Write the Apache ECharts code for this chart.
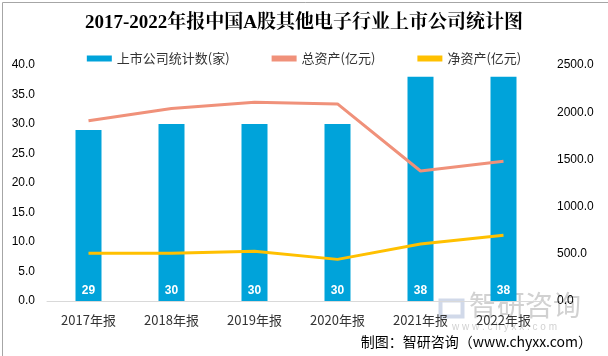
<!DOCTYPE html>
<html><head><meta charset="utf-8">
<script src="https://cdn.jsdelivr.net/npm/echarts@6/dist/echarts.min.js"></script>
<style>html,body{margin:0;padding:0;background:#fff}#c{width:608px;height:356px}</style>
</head><body><div id="c"></div>
<script>
const categories = ['2017年报','2018年报','2019年报','2020年报','2021年报','2022年报'];
const companyCount = [29,30,30,30,38,38];
const totalAssets = [1910,2040,2105,2088,1377,1480];
const netAssets = [505,505,527,441,604,696];
const leftTicks = [0,5,10,15,20,25,30,35,40];
const rightTicks = [0,500,1000,1500,2000,2500];

const chart = echarts.init(document.getElementById('c'));
chart.setOption({
  animation:false,
  backgroundColor:'#fff',
  title:{text:'2017-2022年报中国A股其他电子行业上市公司统计图',left:'center',top:9,
    textStyle:{fontFamily:'"Liberation Serif","Noto Serif CJK SC","Noto Sans CJK SC",serif',fontSize:19,fontWeight:'bold',color:'#000'}},
  legend:{top:47,left:'center',itemGap:42,itemWidth:25,itemHeight:6,
    textStyle:{fontSize:13,color:'#333',fontFamily:'"Noto Sans CJK SC",sans-serif'},
    data:[{name:'上市公司统计数(家)',icon:'rect'},{name:'总资产(亿元)',icon:'rect'},{name:'净资产(亿元)',icon:'rect'}]},
  grid:{left:47,right:63,top:65,bottom:55},
  xAxis:{type:'category',data:categories,axisTick:{show:false},
    axisLine:{lineStyle:{color:'#d9d9d9'}},
    axisLabel:{fontSize:13,color:'#333',margin:13,fontFamily:'"Noto Sans CJK SC",sans-serif'}},
  yAxis:[
    {type:'value',min:leftTicks[0],max:leftTicks[leftTicks.length-1],interval:5,splitLine:{show:false},
      axisLabel:{formatter:v=>v.toFixed(1),color:'#000',fontSize:12,margin:12}},
    {type:'value',min:rightTicks[0],max:rightTicks[rightTicks.length-1],interval:500,splitLine:{show:false},
      axisLabel:{formatter:v=>v.toFixed(1),color:'#000',fontSize:12,margin:12}}
  ],
  series:[
    {name:'上市公司统计数(家)',type:'bar',data:companyCount,barWidth:26,itemStyle:{color:'#00A3DA'},
      label:{show:true,position:'insideBottom',distance:4,color:'#fff',fontWeight:'bold',fontSize:12}},
    {name:'总资产(亿元)',type:'line',yAxisIndex:1,data:totalAssets,symbol:'none',
      lineStyle:{color:'#F0917A',width:3},itemStyle:{color:'#F0917A'}},
    {name:'净资产(亿元)',type:'line',yAxisIndex:1,data:netAssets,symbol:'none',
      lineStyle:{color:'#FFC000',width:3},itemStyle:{color:'#FFC000'}}
  ],
  graphic:[
    {type:'rect',left:0,top:0,shape:{width:607,height:355},style:{fill:'none',stroke:'#a6a6a6',lineWidth:1}},
    {type:'text',left:469,top:291,style:{text:'智研咨询',fontSize:28,fill:'rgba(140,140,140,0.4)',fontFamily:'"Noto Sans CJK SC",sans-serif'}},
    {type:'text',left:452,top:322,style:{text:'w w w . c h y x x . c o m',fontSize:10,fill:'rgba(140,140,140,0.4)'}},
    {type:'rect',left:438,top:298,shape:{width:22,height:16},style:{fill:'none',stroke:'rgba(140,160,200,0.4)',lineWidth:4}},
    {type:'text',right:16,top:335,style:{text:'制图：智研咨询（www.chyxx.com）',fontSize:14,fill:'#000',fontFamily:'"Noto Sans CJK SC",sans-serif'}}
  ]
});
</script></body></html>
